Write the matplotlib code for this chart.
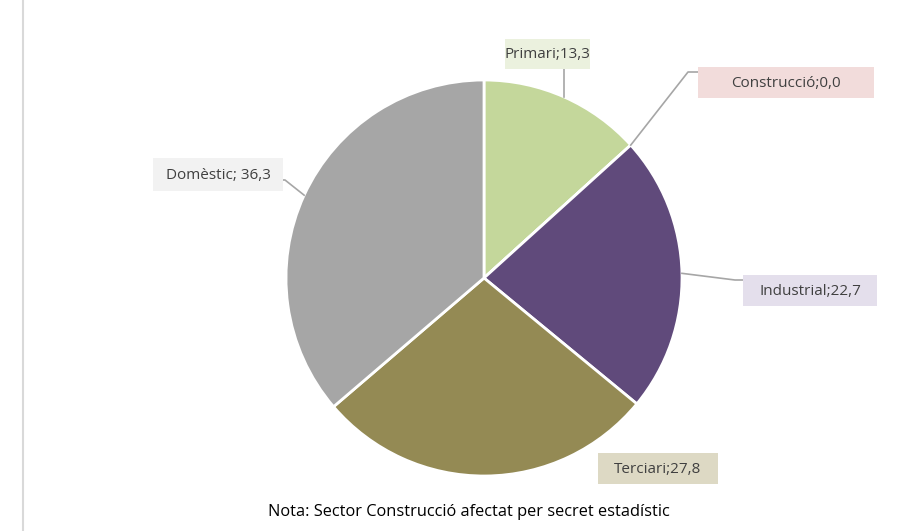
import matplotlib
matplotlib.use("Agg")
import matplotlib.pyplot as plt
from matplotlib.patches import Rectangle
import numpy as np

plt.rcParams['font.family'] = ['Open Sans', 'DejaVu Sans']

categories = ["Primari", "Construcció", "Industrial", "Terciari", "Domèstic"]
values = [13.3, 0.0, 22.7, 27.8, 36.3]
value_labels = ["13,3", "0,0", "22,7", "27,8", "36,3"]
label_texts = ["Primari;13,3", "Construcció;0,0", "Industrial;22,7", "Terciari;27,8", "Domèstic; 36,3"]
colors = ["#c4d79b", "#c0504d", "#604a7b", "#948a54", "#a6a6a6"]
box_colors = ["#ebf1de", "#f2dcdb", "#e4dfec", "#ddd9c4", "#f2f2f2"]
note = "Nota: Sector Construcció afectat per secret estadístic"

W, H = 919, 531
fig = plt.figure(figsize=(W / 100, H / 100), dpi=100)
ax = fig.add_axes([0, 0, 1, 1])
ax.set_xlim(0, W)
ax.set_ylim(0, H)
ax.set_aspect('equal')
ax.axis('off')

cx, cy, r = 484, H - 278, 198
wedges, _ = ax.pie(values, colors=colors, startangle=90, counterclock=False,
                   center=(cx, cy), radius=r, normalize=True,
                   wedgeprops=dict(edgecolor='white', linewidth=2))
ax.set_xlim(0, W)
ax.set_ylim(0, H)

# label boxes (x0, x1, y0, y1 in pixels from top) and leader paths
boxes = [(505, 590, 39, 69), (698, 874, 67, 98), (743, 877, 275, 306),
         (598, 718, 453, 484), (153, 283, 158, 191)]
elbows = [None, (688, 72), (735, 280), None, (285, 180)]
ends = [(565, 69), (698, 72), (743, 280), None, (283, 180)]

for i, w in enumerate(wedges):
    theta = np.deg2rad((w.theta1 + w.theta2) / 2)
    px = cx + r * np.cos(theta)
    py = cy + r * np.sin(theta)
    x0, x1, y0, y1 = boxes[i]
    if ends[i] is not None:
        if i == 0:
            xs = [px, px]; ys = [py, H - ends[i][1]]
        else:
            xs = [px, elbows[i][0], ends[i][0]]
            ys = [py, H - elbows[i][1], H - ends[i][1]]
        ax.plot(xs, ys, color='#a6a6a6', lw=1.2, zorder=1)
    ax.add_patch(Rectangle((x0, H - y1), x1 - x0, y1 - y0, fc=box_colors[i], ec='none', zorder=2))
    ax.text((x0 + x1) / 2, H - (y0 + y1) / 2 - 1, label_texts[i],
            ha='center', va='center', fontsize=11, color='#404040', zorder=3)

ax.text(469, H - 512, note, ha='center', va='center', fontsize=11.8, color='#000000')

# left border line
ax.plot([22.5, 22.5], [0, H], color='#d9d9d9', lw=1.5, clip_on=False)

fig.savefig("out.png", dpi=100, facecolor='white')
